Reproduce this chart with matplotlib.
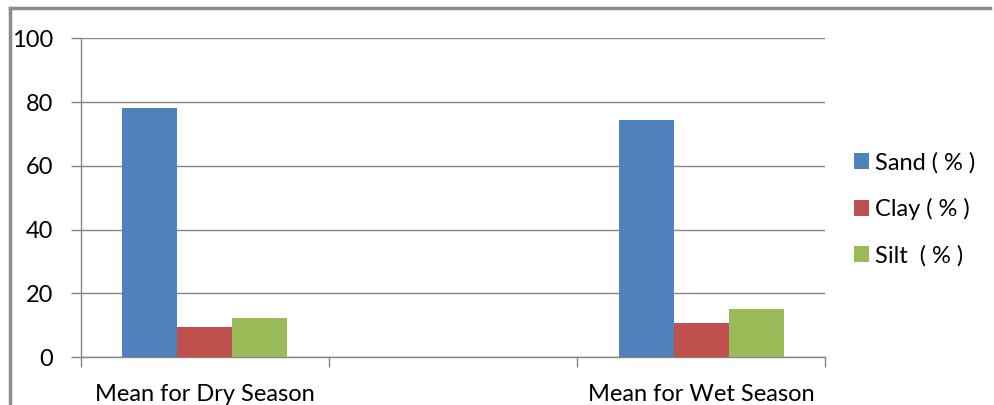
"""Grouped bar chart of mean soil texture (sand / clay / silt) for dry and wet seasons."""

import numpy as np
import matplotlib.pyplot as plt
from matplotlib.lines import Line2D

# categories (the empty middle one keeps the gap between the two seasons)
seasons = ["Mean for Dry Season", "", "Mean for Wet Season"]
sand = [78.1, np.nan, 74.4]
clay = [9.5, np.nan, 10.7]
silt = [12.3, np.nan, 15.1]

series_names = ["Sand ( % )", "Clay ( % )", "Silt  ( % )"]
colors = ["#4F81BD", "#C0504D", "#9BBB59"]
yticks = [0, 20, 40, 60, 80, 100]

plt.rcParams["font.family"] = ["Lato", "DejaVu Sans"]
fs = 17

fig = plt.figure(figsize=(9.95, 4.05), dpi=100)
ax = fig.add_axes([0.0811, 0.1178, 0.7484, 0.7876])

x = np.arange(len(seasons))
width = 0.222
for i, (vals, name, col) in enumerate(zip([sand, clay, silt], series_names, colors)):
    ax.bar(x + (i - 1) * width, vals, width, color=col, label=name, zorder=3)

ax.set_xlim(-0.5, len(seasons) - 0.5)
ax.set_ylim(0, 100)
ax.set_yticks(yticks)
ax.tick_params(axis="y", length=7, width=1, color="#868686", pad=13, labelsize=fs)

# tick marks at category boundaries, labels at category centres
ax.set_xticks(np.arange(len(seasons) + 1) - 0.5)
ax.set_xticklabels([])
ax.set_xticks(x, minor=True)
ax.set_xticklabels(seasons, minor=True)
ax.tick_params(axis="x", which="major", length=7, width=1, color="#868686")
ax.tick_params(axis="x", which="minor", length=0, pad=19, labelsize=fs)

ax.grid(axis="y", color="#868686", linewidth=1, zorder=0)
for side in ["top", "right"]:
    ax.spines[side].set_visible(False)
for side in ["left", "bottom"]:
    ax.spines[side].set_color("#868686")
    ax.spines[side].set_linewidth(1)

fig.legend(
    loc="center left",
    bbox_to_anchor=(0.858, 0.484),
    frameon=False,
    fontsize=fs,
    handlelength=0.64,
    handleheight=0.64,
    handletextpad=0.25,
    labelspacing=1.05,
    borderpad=0,
    borderaxespad=0,
)

# outer chart border (only left and top edges are visible in the crop)
fig.add_artist(Line2D([0.0105, 0.0105], [0, 0.98], transform=fig.transFigure, color="#8c8c8c", linewidth=2.5))
fig.add_artist(Line2D([0.0105, 0.995], [0.98, 0.98], transform=fig.transFigure, color="#8c8c8c", linewidth=2.5))

fig.savefig("out.png", dpi=100)
